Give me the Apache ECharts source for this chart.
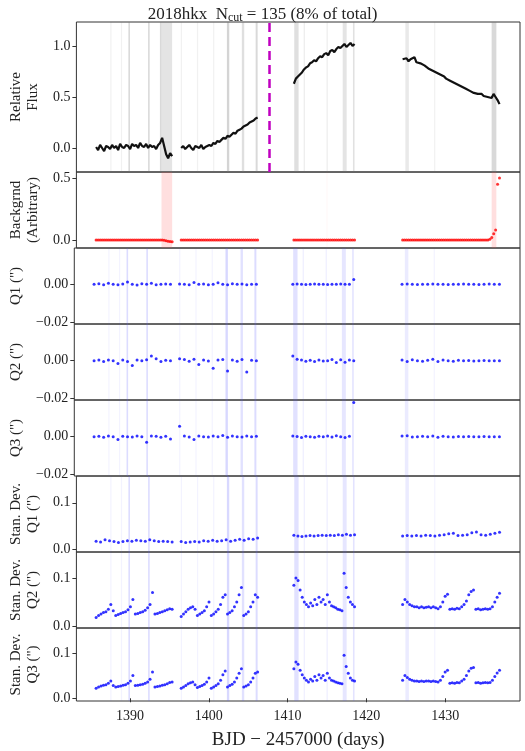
<!DOCTYPE html>
<html><head><meta charset="utf-8">
<script src="https://cdn.jsdelivr.net/npm/echarts@6/dist/echarts.min.js"></script>
<style>html,body{margin:0;padding:0;background:#fff}#c{width:525px;height:751px}</style>
</head><body><div id="c"></div>
<script>
// segments [start, end] in BJD-2457000
const segments = [[1385.7,1395.35],[1396.5,1406.2],[1410.8,1418.5],[1424.6,1436.9]];
const fluxSegs = [
 [0.01,-0.02,0.03,0.00,-0.03,0.02,0.01,-0.01,0.03,0.00,0.02,-0.02,0.04,0.01,0.00,0.03,0.02,-0.01,0.04,0.02,0.03,0.00,0.05,0.02,0.01,0.04,0.00,0.03,0.01,0.02,-0.01,0.03,0.05,0.10,0.02,-0.06,-0.10,-0.05,-0.08],
 [0.00,0.02,-0.01,0.01,0.03,0.00,-0.02,0.02,0.01,0.00,0.03,-0.01,0.01,0.02,0.03,0.02,0.05,0.04,0.07,0.06,0.08,0.10,0.09,0.12,0.11,0.13,0.15,0.14,0.17,0.18,0.19,0.21,0.22,0.23,0.25,0.26,0.27,0.29,0.30],
 [0.63,0.68,0.70,0.72,0.74,0.77,0.79,0.80,0.83,0.84,0.86,0.85,0.88,0.90,0.89,0.92,0.93,0.91,0.95,0.96,0.94,0.97,0.99,0.98,1.00,1.02,0.99,1.01,1.03,1.00,1.02],
 [0.87,0.86,0.88,0.85,0.87,0.86,0.89,0.84,0.85,0.83,0.82,0.81,0.80,0.78,0.79,0.76,0.75,0.74,0.73,0.72,0.71,0.70,0.68,0.69,0.66,0.65,0.64,0.63,0.62,0.61,0.60,0.59,0.58,0.57,0.56,0.57,0.54,0.55,0.53,0.52,0.53,0.51,0.52,0.50,0.51,0.49,0.53,0.50,0.47,0.43]
];
const bkgSegs = [
 [0,0,0,0,0,0,0,0,0,0,0,0,0,0,0,0,0,0,0,0,0,0,0,0,0,0,0,0,0,0,0,0,0,0,-0.003,-0.006,-0.01,-0.012,-0.015],
 [0,0,0,0,0,0,0,0,0,0,0,0,0,0,0,0,0,0,0,0,0,0,0,0,0,0,0,0,0,0,0,0,0,0,0,0,0,0,0],
 [0,0,0,0,0,0,0,0,0,0,0,0,0,0,0,0,0,0,0,0,0,0,0,0,0,0,0,0,0,0,0],
 [0,0,0,0,0,0,0,0,0,0,0,0,0,0,0,0,0,0,0,0,0,0,0,0,0,0,0,0,0,0,0,0,0,0,0,0,0,0,0,0,0,0,0,0,0,0.005,0.02,0.05,0.08,0.45,0.5]
];
const q1Segs = [
 [0,0.0003,-0.0002,0.0005,0,-0.0003,0.0002,0.0012,0,-0.0004,0.0003,0,0.0006,-0.0002,0,0.0001,0],
 [0.0002,0,-0.0003,0.001,0,0.0002,-0.0002,0,0.0008,0,-0.0002,0.0003,0,0.0001,-0.0002,0,0],
 [0,0.0001,0,-0.0001,0,0.0001,0,0,-0.0001,0,0,0.0001,0,0,0.0025],
 [0,0.0001,0,-0.0001,0,0,0.0001,0,0,-0.0001,0,0,0.0001,0,0,-0.0001,0,0.0001,0,0]
];
const q2Segs = [
 [0,0.0004,-0.0005,0.0003,0,-0.0015,0.0004,-0.0005,-0.0025,0.0003,0,0.0005,0.0025,0.001,-0.0004,0.0002,0],
 [0.001,0.0006,-0.0003,0.0008,-0.002,0.0004,-0.0002,-0.004,0.0003,0.0006,-0.0055,0.0004,-0.0003,0.0006,-0.006,0.0002,0],
 [0.0025,0.0008,0.0004,-0.0003,0.0002,-0.0005,0.0003,-0.0002,0,0.0006,-0.001,0.0005,-0.0008,0.0003,0],
 [0.0003,-0.0004,0.0005,0,-0.0003,0.0002,0.0007,-0.0005,0.0003,0,-0.0003,0.0002,0,0.0001,-0.0002,0,0.0001,0,-0.0001,0]
];
const q3Segs = [
 [0,0.0002,-0.0003,0.0004,0,-0.0015,0.0002,0,-0.0002,0.0003,0,-0.003,0.0004,0.0002,-0.0003,0.0002,-0.0012],
 [0.0055,0.0003,-0.0002,-0.0015,0.0004,0,-0.0002,0.0003,0,0.0006,-0.0003,0.0004,0,-0.0002,0.0003,0,0.0002],
 [0.0003,0.0001,-0.0004,0.0002,0,-0.0003,0.0002,0,0.0003,-0.0002,0.0005,0,-0.0004,0.0002,0.018],
 [0.0003,0.0005,-0.0002,0,0.0002,-0.0001,0.0004,-0.0003,0.0002,0,-0.0002,0.0001,0,0.0001,-0.0001,0,0.0001,0,-0.0001,0]
];
const sd1Segs = [
 [0.017,0.015,0.020,0.018,0.016,0.014,0.016,0.018,0.017,0.019,0.018,0.017,0.020,0.018,0.016,0.017,0.016,0.015],
 [0.016,0.014,0.015,0.016,0.015,0.018,0.017,0.019,0.017,0.018,0.020,0.017,0.019,0.021,0.019,0.022,0.021,0.024],
 [0.030,0.028,0.027,0.028,0.029,0.028,0.029,0.030,0.029,0.030,0.029,0.031,0.030,0.032,0.030,0.031],
 [0.028,0.029,0.028,0.029,0.028,0.030,0.029,0.028,0.030,0.031,0.033,0.034,0.029,0.030,0.031,0.035,0.037,0.031,0.030,0.032,0.034,0.036]
];
const sd2Segs = [
 [0.018,0.022,0.025,0.028,0.030,0.035,0.045,0.032,0.022,0.024,0.026,0.028,0.030,0.034,0.040,0.055,0.025,0.026,0.028,0.030,0.033,0.038,0.045,0.070,0.025,0.026,0.028,0.030,0.032,0.034,0.036,0.035],
 [0.020,0.025,0.030,0.035,0.038,0.040,0.035,0.022,0.025,0.028,0.032,0.040,0.050,0.022,0.025,0.030,0.035,0.045,0.060,0.065,0.025,0.028,0.032,0.040,0.050,0.065,0.080,0.022,0.025,0.030,0.040,0.050,0.065,0.060],
 [0.085,0.100,0.095,0.075,0.060,0.050,0.045,0.040,0.048,0.042,0.055,0.045,0.060,0.050,0.055,0.045,0.065,0.050,0.042,0.040,0.038,0.035,0.034,0.032,0.110,0.080,0.060,0.050,0.045,0.040],
 [0.045,0.055,0.050,0.045,0.042,0.040,0.040,0.038,0.040,0.038,0.039,0.040,0.038,0.040,0.038,0.036,0.040,0.050,0.062,0.066,0.035,0.036,0.035,0.037,0.036,0.040,0.045,0.052,0.065,0.072,0.075,0.035,0.036,0.034,0.035,0.036,0.035,0.036,0.040,0.050,0.060,0.068]
];
const sd3Segs = [
 [0.022,0.025,0.027,0.029,0.030,0.033,0.038,0.028,0.025,0.026,0.027,0.029,0.030,0.033,0.038,0.050,0.028,0.029,0.030,0.031,0.033,0.036,0.042,0.058,0.025,0.026,0.027,0.029,0.030,0.032,0.035,0.036],
 [0.022,0.025,0.028,0.032,0.034,0.036,0.030,0.024,0.026,0.028,0.031,0.036,0.045,0.022,0.025,0.028,0.032,0.040,0.052,0.060,0.025,0.028,0.031,0.036,0.045,0.055,0.065,0.025,0.027,0.030,0.036,0.045,0.055,0.058],
 [0.065,0.080,0.075,0.062,0.052,0.045,0.040,0.036,0.042,0.038,0.048,0.040,0.052,0.045,0.050,0.040,0.055,0.045,0.040,0.038,0.036,0.034,0.033,0.032,0.095,0.070,0.055,0.045,0.040,0.038],
 [0.040,0.050,0.046,0.042,0.040,0.038,0.038,0.037,0.038,0.037,0.038,0.038,0.037,0.038,0.037,0.036,0.040,0.048,0.058,0.062,0.033,0.034,0.033,0.035,0.034,0.038,0.042,0.050,0.060,0.066,0.068,0.034,0.035,0.033,0.034,0.035,0.034,0.035,0.040,0.048,0.056,0.062]
];
// cut bands [start, end, strength]; grayOnly bands appear only in flux panel
const bands = [[1387.5,1387.65,0.25],[1388.85,1389.0,0.25],[1389.8,1390.0,0.7],[1392.3,1392.5,0.7],[1396.45,1396.6,0.25],[1398.5,1398.65,0.25],[1400.55,1400.7,0.25],[1402.3,1402.6,0.8],[1404.2,1404.5,0.6],[1405.95,1406.2,0.7],[1410.85,1411.4,0.6],[1412.05,1412.2,0.35],[1414.95,1415.1,0.35],[1417.0,1417.5,0.5],[1418.3,1418.5,0.55],[1424.95,1425.4,0.4],[1428.6,1428.75,0.25]];
const grayOnly = [[1393.8,1394.0,0.7],[1394.0,1395.35,0.5],[1435.9,1436.5,0.7]];
const redBands = [[1394.0,1395.35,0.6],[1414.95,1415.05,0.2],[1435.9,1436.5,0.6]];
const cutLine = 1407.7;
const xTicks = [1390,1400,1410,1420,1430];

function toPts(segs){
  const out=[];
  segs.forEach((vals,k)=>{const [a,b]=segments[k];const n=vals.length;
    vals.forEach((v,i)=>out.push([a+(b-a)*i/(n-1),v]));
    out.push([ (b+segments[Math.min(k+1,3)][0])/2, null]);});
  return out;
}
const FONT='"Liberation Serif","DejaVu Serif",serif';
const tops=[22,172,248,324,400,476,552,628], hts=[150,76,76,76,76,76,76,76];
const neg=v=>v.toFixed(2).replace('-','\u2212');
const yDefs=[
 {min:-0.235,max:1.235,ticks:[0,0.5,1.0],fmt:v=>v.toFixed(1),name:'Relative\nFlux'},
 {min:-0.065,max:0.548,ticks:[0,0.5],fmt:v=>v.toFixed(1),name:'Backgrnd\n(Arbitrary)'},
 {min:-0.0209,max:0.0191,ticks:[-0.02,0],fmt:neg,name:'Q1 (")'},
 {min:-0.0207,max:0.0193,ticks:[-0.02,0],fmt:neg,name:'Q2 (")'},
 {min:-0.0207,max:0.0193,ticks:[-0.02,0],fmt:neg,name:'Q3 (")'},
 {min:-0.0065,max:0.158,ticks:[0,0.1],fmt:v=>v.toFixed(1),name:'Stan. Dev.\nQ1 (")'},
 {min:-0.004,max:0.154,ticks:[0,0.1],fmt:v=>v.toFixed(1),name:'Stan. Dev.\nQ2 (")'},
 {min:-0.006,max:0.155,ticks:[0,0.1],fmt:v=>v.toFixed(1),name:'Stan. Dev.\nQ3 (")'}
];
const grid=[],xAxis=[],yAxis=[],series=[];
yDefs.forEach((d,i)=>{
  grid.push({left:64,right:5,top:tops[i],height:hts[i],show:true,borderColor:'#333',borderWidth:1,backgroundColor:'transparent'});
  xAxis.push({gridIndex:i,type:'value',min:1383.2,max:1439.5,
    axisLine:{show:false},splitLine:{show:false},
    axisTick:{show:i===7,length:4,lineStyle:{color:'#333'},customValues:xTicks},
    axisLabel:{show:i===7,fontFamily:FONT,fontSize:14,color:'#222',customValues:xTicks,formatter:v=>String(v)},
    name:i===7?'BJD \u2212 2457000 (days)':'',nameLocation:'middle',nameGap:30,
    nameTextStyle:{fontFamily:FONT,fontSize:19,color:'#222'}});
  yAxis.push({gridIndex:i,type:'value',min:d.min,max:d.max,
    axisLine:{show:false},splitLine:{show:false},
    axisTick:{show:true,length:4,lineStyle:{color:'#333'},customValues:d.ticks},
    axisLabel:{fontFamily:FONT,fontSize:14,color:'#222',customValues:d.ticks,formatter:d.fmt,margin:6},
    name:d.name,nameLocation:'middle',nameRotate:90,nameGap:i>=2&&i<=4?38:32,
    nameTextStyle:{fontFamily:FONT,fontSize:15,color:'#222',lineHeight:17}});
  let b, col;
  if(i===0){b=bands.concat(grayOnly);col=a=>'rgba(120,120,120,'+(a*0.4).toFixed(2)+')';}
  else if(i===1){b=redBands;col=a=>'rgba(255,80,80,'+(a*0.3).toFixed(2)+')';}
  else {b=bands;col=a=>'rgba(90,90,255,'+(a*0.3).toFixed(2)+')';}
  series.push({type:'line',xAxisIndex:i,yAxisIndex:i,data:[],silent:true,
    markArea:{silent:true,data:b.map(r=>[{xAxis:r[0],itemStyle:{color:col(r[2])}},{xAxis:r[1]}])}});
});
series.push({type:'line',xAxisIndex:0,yAxisIndex:0,data:toPts(fluxSegs),showSymbol:false,connectNulls:false,
  lineStyle:{color:'#111',width:2.2},
  markLine:{silent:true,symbol:'none',label:{show:false},lineStyle:{color:'#c000c0',type:[9,5],width:2.5},data:[{xAxis:cutLine}]}});
const sc=(i,segs,c,s)=>series.push({type:'scatter',xAxisIndex:i,yAxisIndex:i,data:toPts(segs).filter(p=>p[1]!==null),symbolSize:s,itemStyle:{color:c}});
sc(1,bkgSegs,'#ff0000',3);
sc(2,q1Segs,'#0000ff',3);sc(3,q2Segs,'#0000ff',3);sc(4,q3Segs,'#0000ff',3);
sc(5,sd1Segs,'#0000ff',3);sc(6,sd2Segs,'#0000ff',3);sc(7,sd3Segs,'#0000ff',3);
const chart=echarts.init(document.getElementById('c'));
chart.setOption({animation:false,
  title:{text:'2018hkx  N{s|cut} = 135 (8% of total)',left:'center',top:0,
    textStyle:{fontFamily:FONT,fontSize:17,fontWeight:'normal',color:'#222',rich:{s:{fontFamily:FONT,fontSize:12,verticalAlign:'bottom',padding:[7,0,0,0],color:'#222'}}}},
  grid,xAxis,yAxis,series});
</script></body></html>
